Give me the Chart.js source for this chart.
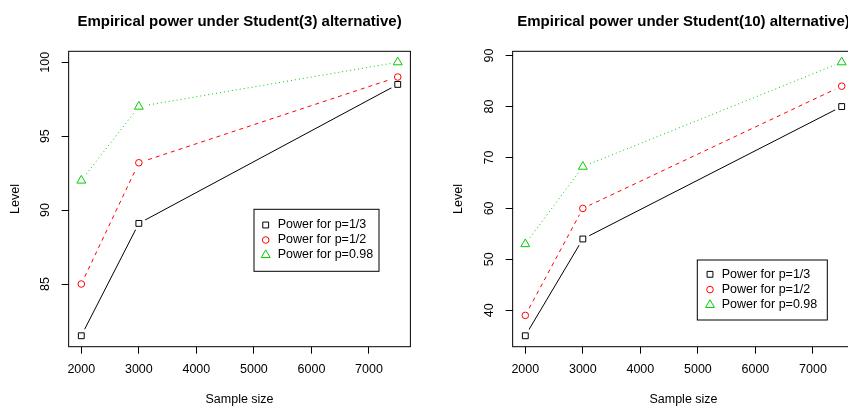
<!DOCTYPE html>
<html><head><meta charset="utf-8">
<script src="https://cdn.jsdelivr.net/npm/chart.js@4.4.1/dist/chart.umd.min.js"></script>
<style>
html,body{margin:0;padding:0;background:#fff;overflow:hidden;width:848px;height:407px;position:relative}
canvas{position:absolute;top:0}
#c1{left:0}
#c2{left:424px}
</style></head><body>
<canvas id="c1" width="424" height="407"></canvas>
<canvas id="c2" width="440" height="407"></canvas>
<script>
// ---- data ----
const sampleSizes = [2000, 3000, 7500];
const xTickValues = [2000, 3000, 4000, 5000, 6000, 7000];
const seriesLabels = ['Power for p=1/3', 'Power for p=1/2', 'Power for p=0.98'];
const t3_p13 = [81.5, 89.1, 98.5];
const t3_p12 = [85.0, 93.2, 99.0];
const t3_p098 = [92.0, 97.0, 100.0];
const t3_yTicks = [85, 90, 95, 100];
const t10_p13 = [35.0, 54.0, 80.0];
const t10_p12 = [39.0, 60.0, 84.0];
const t10_p098 = [53.0, 68.2, 88.7];
const t10_yTicks = [40, 50, 60, 70, 80, 90];
const titles = ['Empirical power under Student(3) alternative)', 'Empirical power under Student(10) alternative)'];
const xLabel = 'Sample size';
const yLabel = 'Level';

// ---- styles ----
const FONT = "'Liberation Sans', Arial, Helvetica, sans-serif";
Chart.defaults.font.family = FONT;
Chart.defaults.color = '#000';
const RAD = 3.3;
const styles = [
  {color: '#000000', dash: [], pointStyle: 'rect', radius: RAD * 2 * 0.886 / 1.41421356},
  {color: '#FF0000', dash: [4, 4], pointStyle: 'circle', radius: RAD},
  {color: '#00CD00', dash: [1, 3], pointStyle: 'triangle', radius: RAD * 1.5551}
];
const GAP = 7.3;

function rRange(vals) {
  const lo = Math.min(...vals), hi = Math.max(...vals);
  const d = (hi - lo) * 0.04;
  return [lo - d, hi + d];
}

function buildDatasets(seriesList) {
  const out = [];
  seriesList.forEach((vals, i) => {
    const st = styles[i];
    const pts = sampleSizes.map((x, j) => ({x: x, y: vals[j]}));
    out.push({
      data: pts, borderColor: st.color, borderWidth: 1, borderDash: st.dash,
      pointRadius: 0, showLine: true, fill: false, tension: 0, order: 2, gapRadius: GAP
    });
    out.push({
      label: seriesLabels[i], data: pts, showLine: false, order: 1, isMarker: true,
      pointStyle: st.pointStyle, pointRadius: st.radius, pointBorderColor: st.color,
      pointBackgroundColor: 'rgba(0,0,0,0)', pointBorderWidth: 1,
      borderColor: st.color, backgroundColor: 'rgba(0,0,0,0)'
    });
  });
  return out;
}

function drawMarker(ctx, style, r, x, y) {
  ctx.beginPath();
  if (style === 'circle') {
    ctx.arc(x, y, r, 0, Math.PI * 2);
  } else if (style === 'rect') {
    const s = r * Math.SQRT1_2;
    ctx.rect(x - s, y - s, 2 * s, 2 * s);
  } else {
    let a = 0;
    ctx.moveTo(x + Math.sin(a) * r, y - Math.cos(a) * r);
    a += 2 * Math.PI / 3;
    ctx.lineTo(x + Math.sin(a) * r, y - Math.cos(a) * r);
    a += 2 * Math.PI / 3;
    ctx.lineTo(x + Math.sin(a) * r, y - Math.cos(a) * r);
    ctx.closePath();
  }
  ctx.stroke();
}

// ---- plugins ----
const gapPlugin = {
  id: 'gapClip',
  beforeDatasetDraw(chart, args) {
    const ds = chart.data.datasets[args.index];
    if (!ds.gapRadius) return;
    const ctx = chart.ctx;
    ctx.save();
    ctx.beginPath();
    ctx.rect(0, 0, chart.width, chart.height);
    args.meta.data.forEach(el => {
      ctx.moveTo(el.x + ds.gapRadius, el.y);
      ctx.arc(el.x, el.y, ds.gapRadius, 0, Math.PI * 2);
    });
    ctx.clip('evenodd');
  },
  afterDatasetDraw(chart, args) {
    const ds = chart.data.datasets[args.index];
    if (!ds.gapRadius) return;
    chart.ctx.restore();
  }
};

const boxPlugin = {
  id: 'plotBox',
  afterDraw(chart) {
    const a = chart.chartArea, ctx = chart.ctx;
    ctx.save();
    ctx.strokeStyle = '#000';
    ctx.lineWidth = 1;
    ctx.strokeRect(a.left, a.top, a.right - a.left, a.bottom - a.top);
    ctx.restore();
  }
};

const rLegend = {
  id: 'rLegend',
  afterDraw(chart, args, o) {
    const ctx = chart.ctx;
    ctx.save();
    ctx.strokeStyle = '#000';
    ctx.lineWidth = 1;
    ctx.strokeRect(o.left, o.top, o.width, o.height);
    const items = chart.data.datasets.filter(d => d.isMarker);
    ctx.font = '12.5px ' + FONT;
    ctx.textBaseline = 'middle';
    ctx.textAlign = 'left';
    items.forEach((d, i) => {
      const y = o.top + o.firstRow + i * o.rowStep;
      ctx.strokeStyle = d.pointBorderColor;
      ctx.lineWidth = 1;
      drawMarker(ctx, d.pointStyle, d.pointRadius, o.left + o.symX, y);
      ctx.fillStyle = '#000';
      ctx.fillText(d.label, o.left + o.textX, y);
    });
    ctx.restore();
  }
};

function makeChart(canvasId, title, seriesList, yTicks, L) {
  const xr = rRange(sampleSizes);
  const yr = rRange([].concat(...seriesList));
  const tickGrid = {display: true, drawOnChartArea: false, drawTicks: true, tickLength: 7, color: '#000', lineWidth: 1};
  return new Chart(document.getElementById(canvasId), {
    type: 'line',
    data: {datasets: buildDatasets(seriesList)},
    options: {
      responsive: false, animation: false, events: [],
      layout: {padding: {left: 0, top: 0, right: L.padRight, bottom: 0}},
      plugins: {
        legend: {display: false}, tooltip: {enabled: false},
        title: {display: true, text: title, fullSize: false, color: '#000',
                font: {size: 15, weight: 'bold'}, padding: {top: 12.4, bottom: L.titleBottom}},
        rLegend: L.legend
      },
      scales: {
        x: {
          type: 'linear', min: xr[0], max: xr[1],
          afterBuildTicks: s => { s.ticks = xTickValues.map(v => ({value: v})); },
          afterFit: s => { s.height = L.xHeight; },
          grid: tickGrid, border: {display: false},
          ticks: {padding: 8.8, font: {size: 12.5}, color: '#000', maxRotation: 0, autoSkip: false,
                  callback: v => String(v)},
          title: {display: true, text: xLabel, font: {size: 12.5}, color: '#000', padding: {top: 0, bottom: 0}}
        },
        y: {
          type: 'linear', min: yr[0], max: yr[1],
          afterBuildTicks: s => { s.ticks = yTicks.map(v => ({value: v})); },
          afterFit: s => { s.width = L.yWidth; },
          grid: tickGrid, border: {display: false},
          ticks: {padding: L.yTickPad, font: {size: 12.5}, color: '#000', minRotation: 90, maxRotation: 90,
                  crossAlign: 'center', autoSkip: false, callback: v => String(v)},
          title: {display: true, text: yLabel, font: {size: 12.5}, color: '#000', padding: {top: L.yTitlePad, bottom: 0}}
        }
      }
    },
    plugins: [gapPlugin, boxPlugin, rLegend]
  });
}

makeChart('c1', titles[0], [t3_p13, t3_p12, t3_p098], t3_yTicks, {
  padRight: 424 - 410.4, titleBottom: 51.3 - 18 - 12.4, xHeight: 407 - 346.7,
  yWidth: 68.65, yTickPad: 5.2, yTitlePad: 8,
  legend: {left: 254, top: 209.3, width: 125, height: 62, firstRow: 15.7, rowStep: 15, symX: 11.7, textX: 23.7}
});
makeChart('c2', titles[1], [t10_p13, t10_p12, t10_p098], t10_yTicks, {
  padRight: 440 - 430.35, titleBottom: 51.3 - 18 - 12.4, xHeight: 407 - 346.7,
  yWidth: 88.65, yTickPad: 9.0, yTitlePad: 27.5,
  legend: {left: 273.3, top: 260, width: 130, height: 60, firstRow: 14.3, rowStep: 15.3, symX: 12.7, textX: 24.4}
});
</script>
</body></html>
